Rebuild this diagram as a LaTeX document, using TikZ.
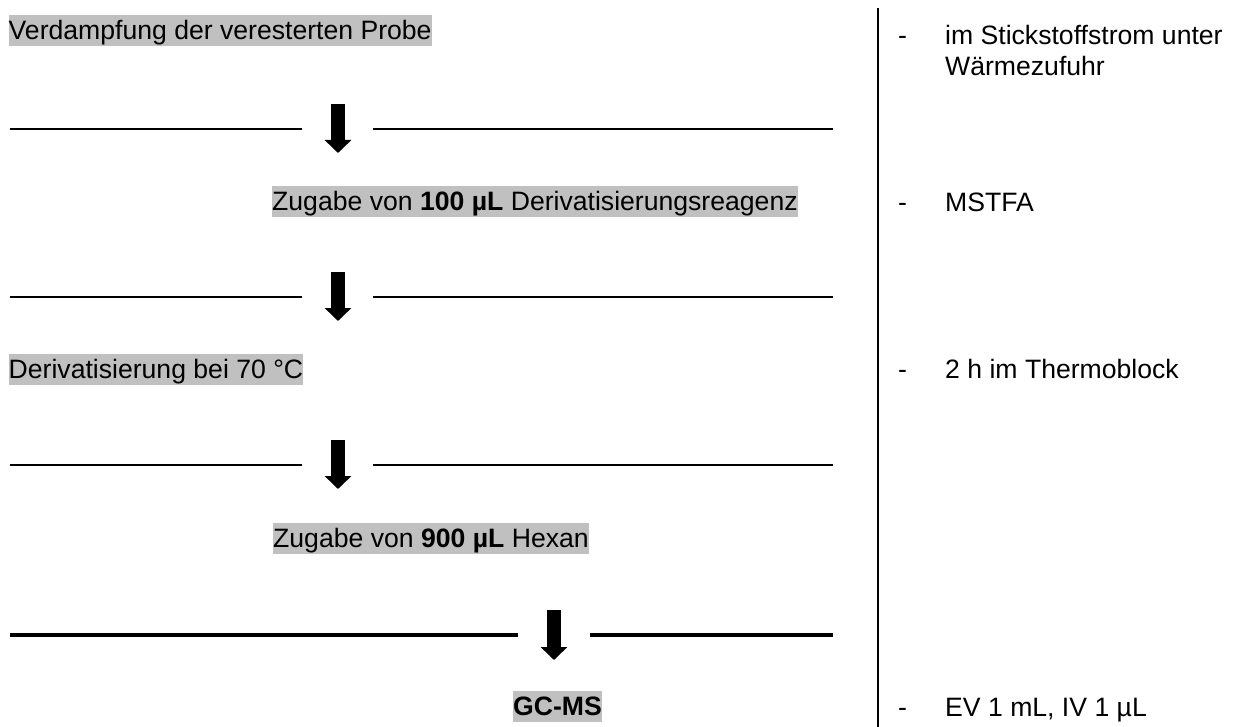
\documentclass[tikz,border=0pt]{standalone}
\usepackage{fontspec}
\setmainfont{Liberation Sans}
\usetikzlibrary{arrows.meta}
\definecolor{shade}{RGB}{192,192,192}

\begin{document}
\begin{tikzpicture}
  [x=1pt,y=-1pt,
   stepbox/.style={fill=shade, inner sep=0pt, anchor=base west,
     text height=24.5pt, text depth=6.5pt},
   remark/.style={inner sep=0pt, anchor=base west},
   divider/.style={line width=2pt},
   flow/.style={line width=14pt, -{Triangle[width=26pt,length=13pt]}}]
  \fontsize{26.6}{30.6}\selectfont
  \def \lx {10}   % left end of the dividers
  \def \rx {833}  % right end of the dividers
  \useasboundingbox (0,0) rectangle (1238,727);

  % steps
  \node[stepbox] (s1) at (8.5,40) {Verdampfung der veresterten Probe};
  \node[stepbox] (s2) at (272,211) {Zugabe von \textbf{100 µL} Derivatisierungsreagenz};
  \node[stepbox] (s3) at (8.5,378) {Derivatisierung bei 70 °C};
  \node[stepbox] (s4) at (273,547) {Zugabe von \textbf{900 µL} Hexan};
  \node[stepbox] (s5) at (513,715) {\textbf{GC-MS}};

  % dividers with arrows
  \foreach \y/\n in {129/1, 297/2, 465/3}
  {
    \coordinate (t\n) at (338,\y-25);
    \coordinate (h\n) at (338,\y+24);
    \draw[divider] (\lx,\y) -- (302,\y);
    \draw[divider] (373,\y) -- (\rx,\y);
    \draw[flow] (t\n) -- (h\n);
  }
  \coordinate (t4) at (554,610);
  \coordinate (h4) at (554,660);
  \draw[line width=4.5pt] (\lx,635) -- (518,635);
  \draw[line width=4.5pt] (590,635) -- (\rx,635);
  \draw[flow] (t4) -- (h4);

  % remarks
  \draw[line width=2pt] (878,8) -- (878,727);
  \foreach \y/\n in {45/1, 212/2, 378/3, 716/5}
    \node[remark] (d\n) at (898,\y) {-};
  \node[remark] (r1) at (945,45) {im Stickstoffstrom unter};
  \node[remark] (r1b) at (945,76) {Wärmezufuhr};
  \node[remark] (r2) at (945,212) {MSTFA};
  \node[remark] (r3) at (945,378) {2 h im Thermoblock};
  \node[remark] (r5) at (945,716) {EV 1 mL, IV 1 µL};
\end{tikzpicture}
\end{document}
